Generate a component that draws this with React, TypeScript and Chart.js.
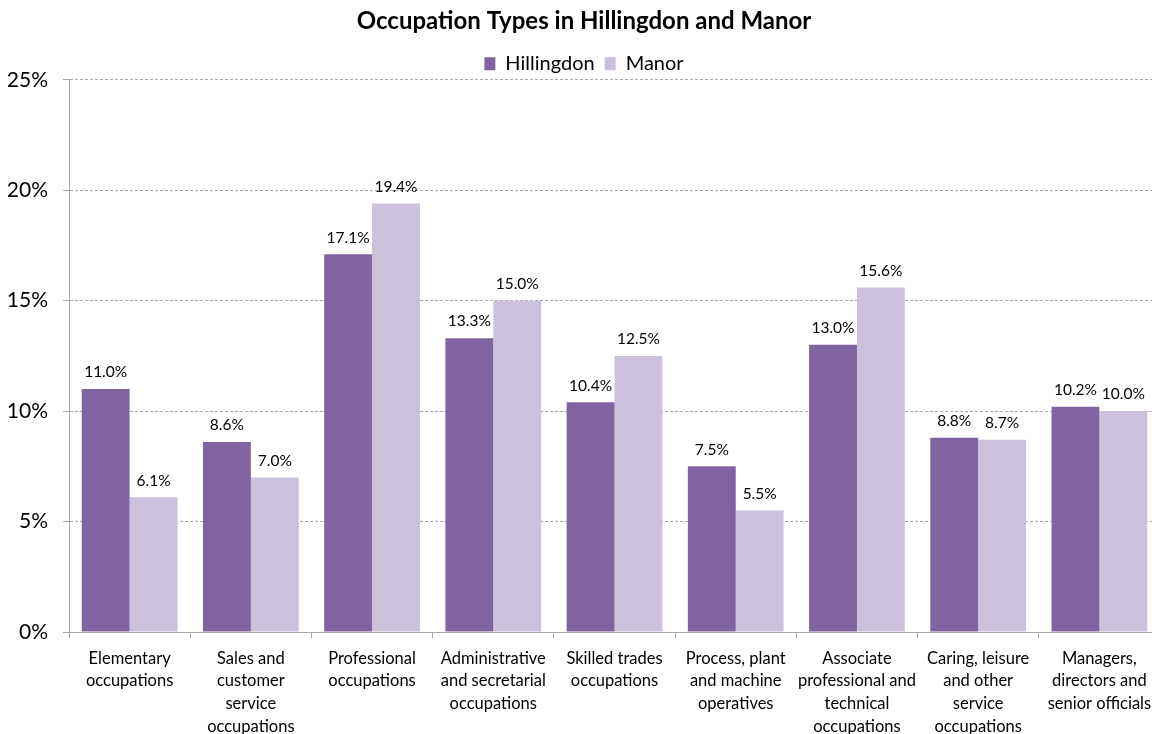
import React, { useEffect, useRef } from "react";
import { Chart, registerables } from "chart.js";

Chart.register(...registerables);

const categories: string[][] = [
  ["Elementary", "occupations"],
  ["Sales and", "customer", "service", "occupations"],
  ["Professional", "occupations"],
  ["Administrative", "and secretarial", "occupations"],
  ["Skilled trades", "occupations"],
  ["Process, plant", "and machine", "operatives"],
  ["Associate", "professional and", "technical", "occupations"],
  ["Caring, leisure", "and other", "service", "occupations"],
  ["Managers,", "directors and", "senior officials"],
];
const hillingdon = [11.0, 8.6, 17.1, 13.3, 10.4, 7.5, 13.0, 8.8, 10.2];
const manor = [6.1, 7.0, 19.4, 15.0, 12.5, 5.5, 15.6, 8.7, 10.0];
const yTicks = [0, 5, 10, 15, 20, 25];

const FONT = "Lato, 'Open Sans', sans-serif";

const valueLabels = {
  id: "valueLabels",
  afterDatasetsDraw(chart: any) {
    const ctx = chart.ctx;
    ctx.save();
    ctx.font = `15.5px ${FONT}`;
    ctx.fillStyle = "#000";
    ctx.textAlign = "center";
    ctx.textBaseline = "bottom";
    chart.data.datasets.forEach((ds: any, di: number) => {
      const meta = chart.getDatasetMeta(di);
      meta.data.forEach((bar: any, i: number) => {
        ctx.fillText(ds.data[i].toFixed(1) + "%", bar.x, bar.y - 9);
      });
    });
    ctx.restore();
  },
};

export default function App() {
  const ref = useRef<HTMLCanvasElement>(null);
  useEffect(() => {
    document.body.style.margin = "0";
    const chart = new Chart(ref.current!, {
      type: "bar",
      data: {
        labels: categories,
        datasets: [
          { label: "Hillingdon", data: hillingdon, backgroundColor: "#8064A2" },
          { label: "Manor", data: manor, backgroundColor: "#CCC1DA" },
        ],
      },
      plugins: [valueLabels],
      options: {
        responsive: false,
        animation: false,
        layout: { padding: { left: 8, right: 30, top: 7, bottom: 0 } },
        datasets: { bar: { categoryPercentage: 0.79, barPercentage: 1.0 } },
        plugins: {
          title: {
            display: true,
            text: "Occupation Types in Hillingdon and Manor",
            color: "#000",
            font: { family: FONT, size: 24, weight: "bold" },
            padding: { top: 0, bottom: 8 },
          },
          legend: {
            display: true,
            maxHeight: 36,
            labels: {
              color: "#000",
              font: { family: FONT, size: 20 },
              boxWidth: 11,
              boxHeight: 13,
              padding: 10,
            },
          },
          tooltip: { enabled: false },
        },
        scales: {
          x: {
            afterFit: (axis: any) => {
              axis.paddingLeft = 0;
              axis.paddingRight = 0;
              axis.height = 102;
            },
            grid: {
              drawOnChartArea: false,
              drawTicks: true,
              tickLength: 6,
              color: "#A6A6A6",
              offset: true,
            },
            border: { display: true, color: "#A6A6A6" },
            ticks: {
              color: "#000",
              font: { family: FONT, size: 16.5, lineHeight: 1.38 },
              maxRotation: 0,
              autoSkip: false,
              padding: 9,
            },
          },
          y: {
            min: 0,
            max: 25,
            afterBuildTicks: (axis: any) => {
              axis.ticks = yTicks.map((v) => ({ value: v }));
            },
            afterFit: (axis: any) => {
              axis.width = 61;
              axis.paddingTop = 0;
              axis.paddingBottom = 0;
            },
            grid: {
              color: "#A6A6A6",
              tickLength: 6,
              tickBorderDash: [],
            },
            border: { display: true, color: "#A6A6A6", dash: [3, 2] },
            ticks: {
              color: "#000",
              font: { family: FONT, size: 21 },
              padding: 15,
              callback: (v: any) => v + "%",
            },
          },
        },
      } as any,
    });
    return () => chart.destroy();
  }, []);
  return (
    <div style={{ width: 1152, height: 734, overflow: "hidden" }}>
      <canvas ref={ref} width={1190} height={734} style={{ display: "block" }} />
    </div>
  );
}
